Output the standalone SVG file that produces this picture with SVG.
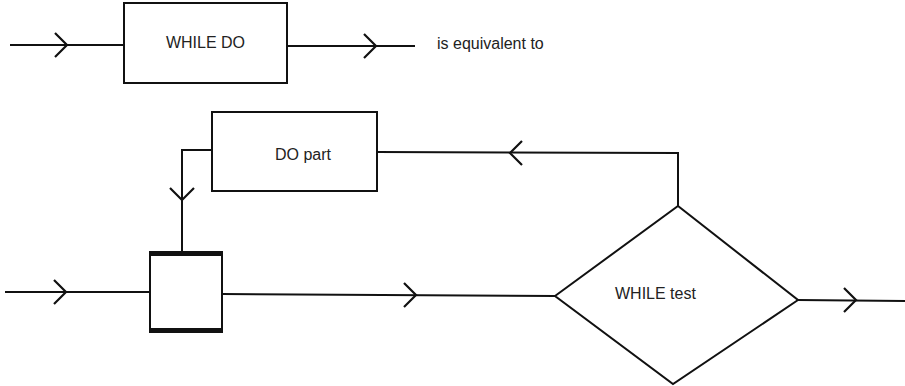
<svg xmlns="http://www.w3.org/2000/svg" width="905" height="386" viewBox="0 0 905 386">
<style>
.ln{fill:none;stroke:#111;stroke-width:2}
.chev{fill:none;stroke:#111;stroke-width:2.2;stroke-linejoin:miter}
.box{fill:#fff;stroke:#111;stroke-width:2}
.bar{fill:#111}
.t{font-family:"Liberation Sans",Arial,sans-serif;font-size:16px;fill:#222}
</style>
<defs>
<path id="chR" d="M-12,-12 L0,0 L-12,12"/>
</defs>
<g id="node-whiledo">
<rect class="box" x="124" y="3" width="163" height="80"/>
<text class="t" x="205.5" y="48" text-anchor="middle">WHILE DO</text>
</g>
<g id="label-equiv">
<text class="t" x="437" y="49">is equivalent to</text>
</g>
<g id="node-dopart">
<rect class="box" x="212" y="112" width="165" height="79"/>
<text class="t" x="275" y="160">DO part</text>
</g>
<g id="node-whiletest">
<polygon class="box" points="555,296 678,206 798,300 673,384"/>
<text class="t" x="615" y="299">WHILE test</text>
</g>
<g id="node-merge">
<rect class="box" x="150" y="252" width="72" height="80"/>
<rect class="bar" x="150" y="251" width="72" height="5"/>
<rect class="bar" x="150" y="328" width="72" height="5"/>
</g>
<g id="connectors">
<line class="ln" x1="10" y1="45" x2="124" y2="45"/>
<use href="#chR" class="chev" transform="translate(67,45)"/>
<line class="ln" x1="287" y1="46" x2="415" y2="46"/>
<use href="#chR" class="chev" transform="translate(376,46)"/>
<polyline class="ln" points="212,150 182,150 182,252"/>
<use href="#chR" class="chev" transform="translate(182,200) rotate(90)"/>
<polyline class="ln" points="377,152 678,153 678,206"/>
<use href="#chR" class="chev" transform="translate(510,153) rotate(180)"/>
<line class="ln" x1="5" y1="292" x2="150" y2="292"/>
<use href="#chR" class="chev" transform="translate(66,292)"/>
<line class="ln" x1="222" y1="294" x2="555" y2="296"/>
<use href="#chR" class="chev" transform="translate(416,295)"/>
<line class="ln" x1="798" y1="300" x2="905" y2="301"/>
<use href="#chR" class="chev" transform="translate(856,300)"/>
</g>
</svg>
